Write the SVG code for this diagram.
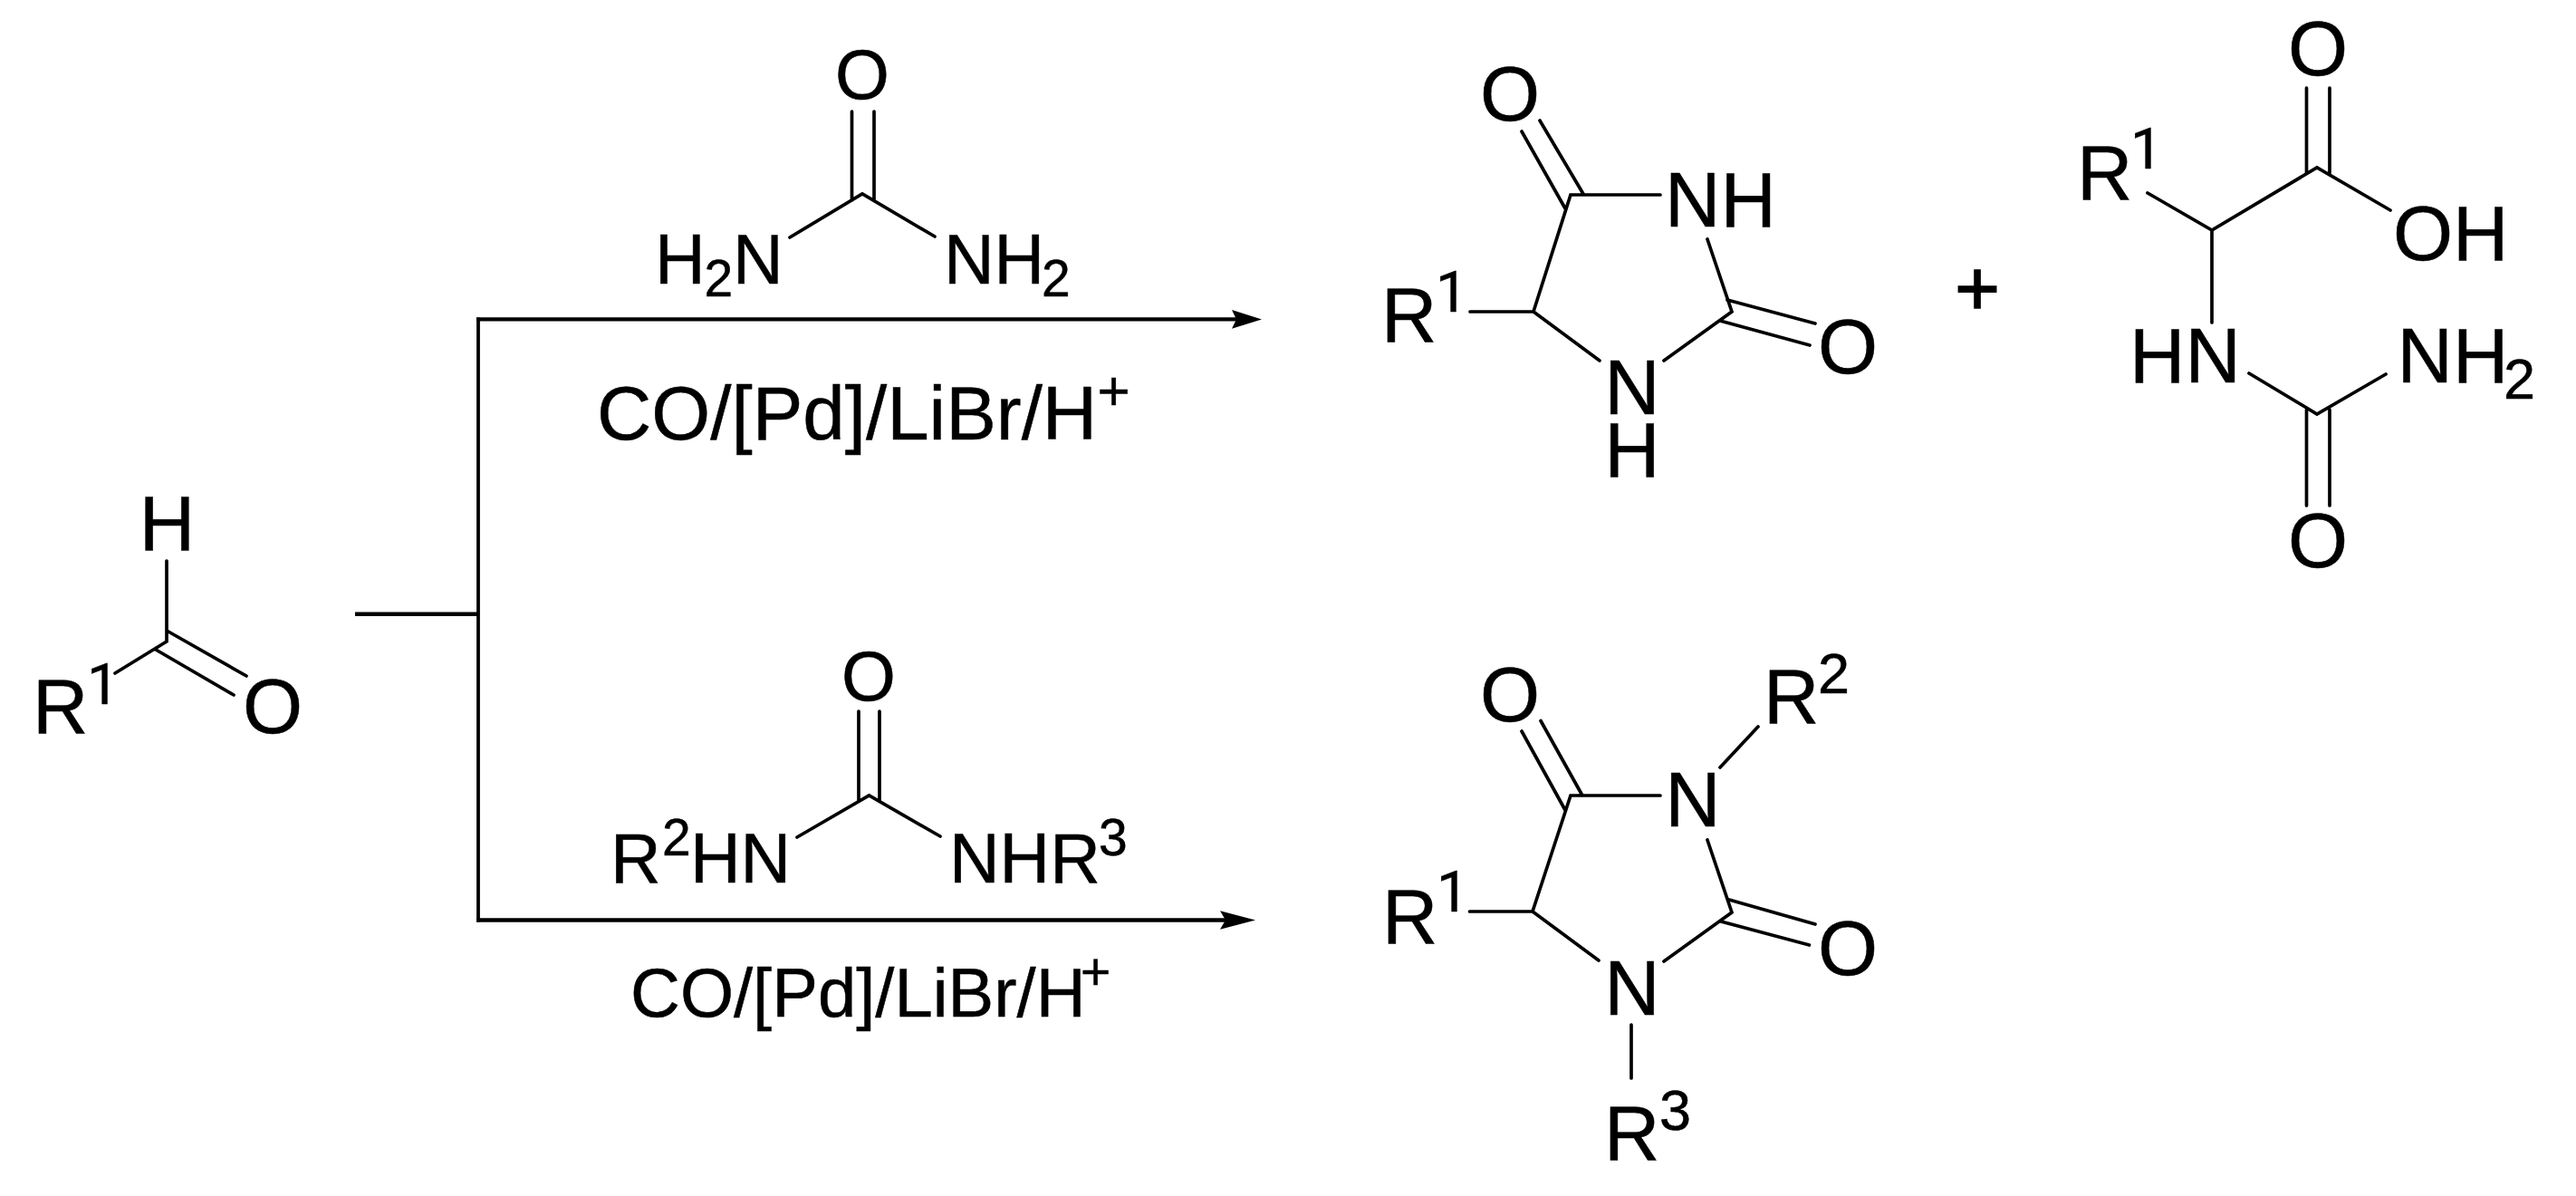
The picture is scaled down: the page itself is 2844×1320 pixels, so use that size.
<svg xmlns="http://www.w3.org/2000/svg" width="2844" height="1320" viewBox="0 0 2844 1320">
<style>
text{font-family:"Liberation Sans",Arial,sans-serif;fill:#000;stroke:#000;stroke-width:.5}
.a{font-size:85px}
.u{font-size:77px}
.c{font-size:83.5px}
.d{font-size:76px}
.s{font-size:63px}
.t{font-size:57px}
.p{font-size:62px}
.o{font-family:Roboto,"Liberation Sans",sans-serif}
.m{text-anchor:middle}
.b{stroke:#000;stroke-width:3.7;fill:none;stroke-linecap:round;stroke-linejoin:miter}
.w{stroke:#000;stroke-width:3.8;fill:none}
.r{stroke:#000;stroke-width:4.4;fill:none}
</style>
<defs>
<marker id="ah1" markerUnits="userSpaceOnUse" markerWidth="40" markerHeight="26" refX="8" refY="13" orient="auto" overflow="visible"><path d="M0 2.7L33 13L0 23.3L5 13Z" fill="#000"/></marker>
<marker id="ah2" markerUnits="userSpaceOnUse" markerWidth="46" markerHeight="26" refX="9" refY="13" orient="auto" overflow="visible"><path d="M0 2.7L39 13L0 23.3L6 13Z" fill="#000"/></marker>
</defs>
<rect width="2844" height="1320" fill="#fff"/>
<g id="connectors">
<path class="r" d="M392 677.7H528"/>
<path class="w" d="M528 1017.5V350.5"/>
<path class="r" d="M526.1 352.4H1368" marker-end="url(#ah1)"/>
<path class="r" d="M526.1 1015.5H1356" marker-end="url(#ah2)"/>
</g>
<g id="aldehyde">
<path class="b" d="M184 619V708M184 696L272 746M172 717L258 767M184 708L127 743"/>
<text class="a m" x="184.5" y="607">H</text>
<text class="a"><tspan x="36" y="808.5">R</tspan><tspan class="s o" x="96" y="777">1</tspan></text>
<text class="a m" x="301" y="809">O</text>
</g>
<g id="urea">
<path class="b" d="M940.5 123V221M965 123V221M872 262L952 214L1032 261"/>
<text class="u m" x="952" y="109">O</text>
<text class="u"><tspan x="723" y="312.5">H</tspan><tspan class="t" x="777.5" y="326.5">2</tspan><tspan x="809" y="312.5">N</tspan></text>
<text class="u"><tspan x="1042" y="312.5">NH</tspan><tspan class="t" x="1150" y="326.5">2</tspan></text>
</g>
<g id="conditions-top">
<text class="c"><tspan x="659" y="485">CO/[Pd]/LiBr/H</tspan><tspan class="p" x="1211.5" y="452">+</tspan></text>
</g>
<g id="hydantoin">
<path class="b" d="M1700 133L1748 214M1680 145L1728 230M1833 215H1734L1693 344H1623M1693 344L1766 398M1837 398L1912 344L1885 264M1907 331L2004 357M1899 354L1998 381"/>
<text class="a m" x="1667" y="133">O</text>
<text class="a" x="1838" y="250">NH</text>
<text class="a"><tspan x="1525" y="377">R</tspan><tspan class="s o" x="1585" y="344">1</tspan></text>
<text class="a m" x="2040" y="412">O</text>
<text class="a m" x="1802" y="457">N</text>
<text class="a m" x="1802" y="525.5">H</text>
</g>
<g id="plus">
<text class="a m" x="2183" y="348" style="stroke-width:1.6">+</text>
</g>
<g id="ureido-acid">
<path class="b" d="M2546.5 97V191M2572 97V191M2371 213L2442 254L2558 185L2639 232M2442 254V356M2483 412L2558 457L2634 413M2546.5 452V558M2572 452V558"/>
<text class="a m" x="2559" y="83">O</text>
<text class="a" x="2642" y="287">OH</text>
<text class="a"><tspan x="2293" y="220">R</tspan><tspan class="s o" x="2352" y="186">1</tspan></text>
<text class="a" x="2351" y="422">HN</text>
<text class="a"><tspan x="2646.5" y="422">NH</tspan><tspan class="s" x="2764" y="440">2</tspan></text>
<text class="a m" x="2559" y="626">O</text>
</g>
<g id="disubstituted-urea">
<path class="b" d="M948 785V883M971 785V883M880 924L959.5 878L1038 923"/>
<text class="u m" x="959" y="773">O</text>
<text class="u"><tspan x="674" y="973.5">R</tspan><tspan class="t" x="731" y="944">2</tspan><tspan x="762" y="973.5">HN</tspan></text>
<text class="u"><tspan x="1048" y="973.5">NHR</tspan><tspan class="t" x="1213" y="944">3</tspan></text>
</g>
<g id="conditions-bottom">
<text class="d"><tspan x="696" y="1122">CO/[Pd]/LiBr/H</tspan><tspan class="t" x="1193" y="1092">+</tspan></text>
</g>
<g id="substituted-hydantoin">
<path class="b" d="M1701 795.5L1747 878M1680 807L1728 894M1833 878H1734L1692 1006H1622.5M1692 1006L1765 1060M1837 1061L1912 1007L1885 927M1909 993L2004 1020M1900 1017L1997.5 1043M1899 847L1941 802M1801 1131V1190"/>
<text class="a m" x="1667" y="796">O</text>
<text class="a m" x="1869" y="912">N</text>
<text class="a"><tspan x="1947" y="797.5">R</tspan><tspan class="s" x="2007" y="765">2</tspan></text>
<text class="a"><tspan x="1526" y="1041">R</tspan><tspan class="s o" x="1586" y="1006">1</tspan></text>
<text class="a m" x="2040" y="1076">O</text>
<text class="a m" x="1802" y="1120">N</text>
<text class="a"><tspan x="1771" y="1279.5">R</tspan><tspan class="s" x="1832" y="1247">3</tspan></text>
</g>
</svg>
